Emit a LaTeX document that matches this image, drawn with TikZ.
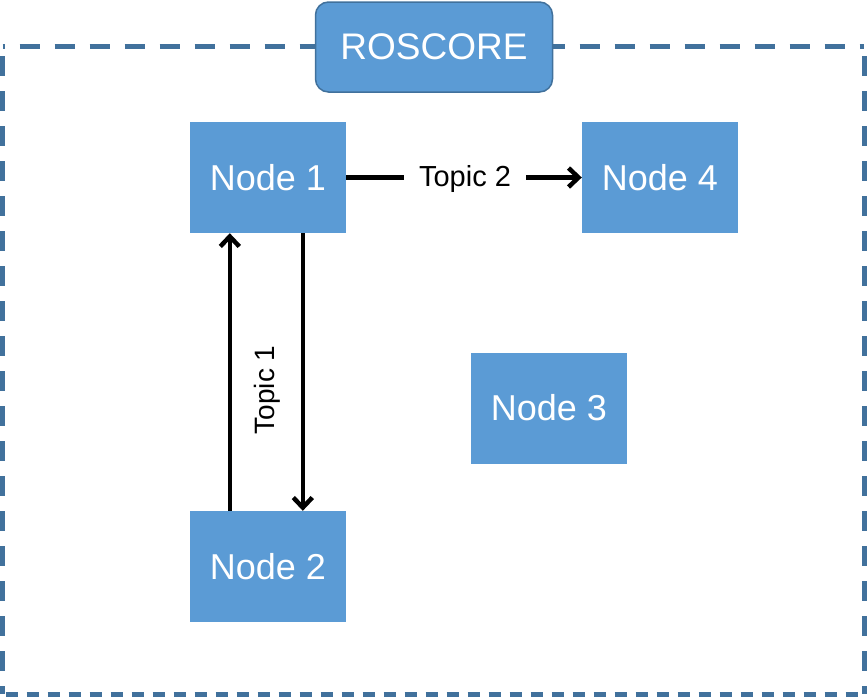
\documentclass[tikz,border=0pt]{standalone}
\usepackage{fontspec}
\setmainfont{Liberation Sans}
\usetikzlibrary{arrows.meta}
\definecolor{boxblue}{HTML}{5B9BD5}
\definecolor{edgeblue}{HTML}{41719C}
\tikzset{
  rosnode/.style={fill=boxblue, text=white, minimum width=156pt, minimum height=111pt, inner sep=0pt, font=\fontsize{36}{40}\selectfont},
  corebox/.style={fill=boxblue, draw=edgeblue, line width=1.5pt, rounded corners=13pt, text=white, minimum width=237pt, minimum height=90pt, inner sep=0pt, font=\fontsize{37}{40}\selectfont},
  border/.style={draw=edgeblue, line width=5pt},
  arr/.style={draw=black, line width=4.5pt, -{Straight Barb[length=10pt,width=19pt,line width=4.5pt]}},
  plainline/.style={draw=black, line width=4.5pt},
  toplabel/.style={inner xsep=15pt, inner ysep=4pt, font=\fontsize{29}{32}\selectfont}
}
\begin{document}
\begin{tikzpicture}[x=1pt,y=-1pt]
\useasboundingbox (0,0) rectangle (867,697);
% dashed border
\coordinate (tl) at (2.5,46);
\coordinate (tr) at (864,46);
\coordinate (bl) at (2.5,694);
\coordinate (br) at (864,694);
\draw[border, dash pattern=on 20pt off 15pt, dash phase=-17pt] (tl) -- (tr);
\draw[border, dash pattern=on 20pt off 15pt, dash phase=-10pt] (tl) -- (bl);
\draw[border, dash pattern=on 20pt off 15pt, dash phase=-10pt] (tr) -- (br);
\draw[border, dash pattern=on 12pt off 9pt, dash phase=-3pt] (bl) -- (br);
% ROSCORE
\node[corebox] (core) at (434,47) {ROSCORE};
% nodes
\node[rosnode] (n1) at (268,177.5) {Node 1};
\node[rosnode] (n4) at (660,177.5) {Node 4};
\node[rosnode] (n3) at (549,408) {Node 3};
\node[rosnode] (n2) at (268,566.5) {Node 2};
% Topic 2
\node[toplabel] (t2) at (465,179) {Topic 2};
\draw[plainline] (n1.east) -- (n1.east -| t2.west);
\draw[arr] (n4.west -| t2.east) -- (n4.west);
% Topic 1
\draw[arr] ([xshift=40pt]n2.north west) -- ([xshift=40pt]n1.south west);
\draw[arr] ([xshift=113pt]n1.south west) -- ([xshift=113pt]n2.north west);
\node[rotate=90, font=\fontsize{28}{30}\selectfont] (t1) at (267,390) {Topic 1};
\end{tikzpicture}
\end{document}
